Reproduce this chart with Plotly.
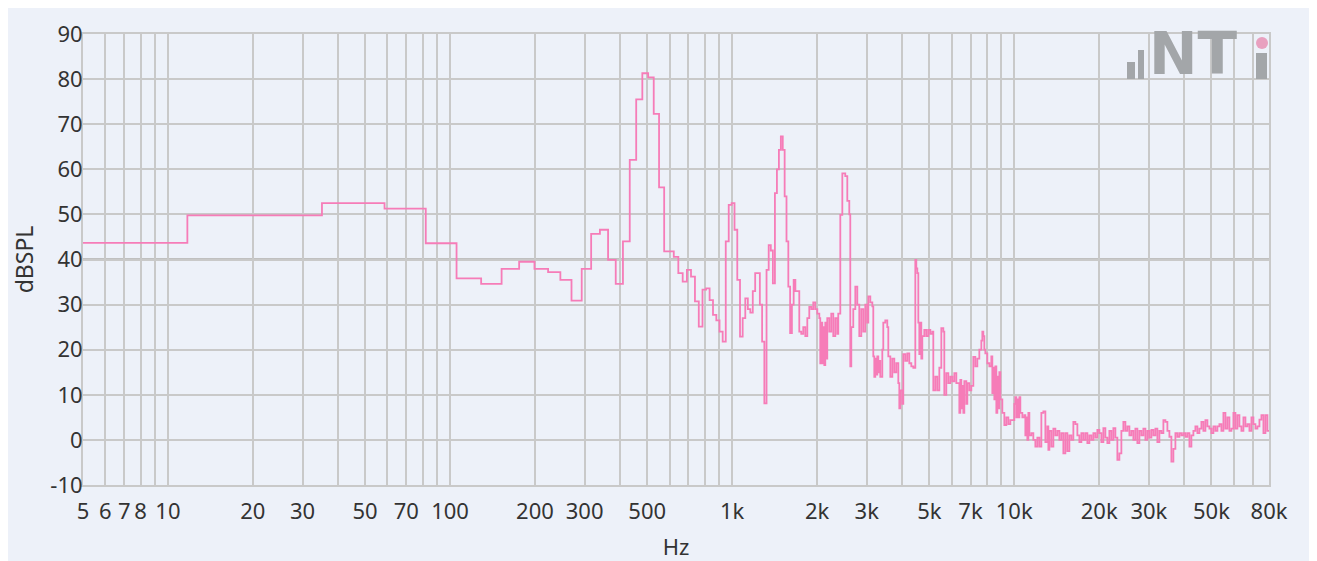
import plotly.graph_objects as go

# ---- data: FFT spectrum (bin start frequency in Hz, level in dBSPL) ----
FREQ_LOW = [5, 11.72, 35.16, 58.59, 82.03, 105.47, 128.91, 152.34, 175.78, 199.22,
            222.66, 246.09, 269.53, 292.97, 316.41, 339.84, 363.28, 386.72, 410.16, 433.59,
            457.03, 480.47, 503.91, 527.34, 550.78, 574.22, 597.66, 621.09, 644.53, 667.97,
            691.41, 714.84, 738.28, 761.72, 785.16, 808.59, 832.03, 855.47, 878.91, 902.34,
            925.78, 949.22, 972.66, 996.09, 1019.53, 1042.97, 1066.41, 1089.84, 1113.28, 1136.72,
            1160.16, 1183.59, 1207.03, 1230.47, 1253.91, 1277.34, 1300.78, 1324.22, 1347.66, 1371.09,
            1394.53, 1417.97, 1441.41, 1464.84, 1488.28, 1511.72, 1535.16, 1558.59, 1582.03, 1605.47,
            1628.91, 1652.34, 1675.78]
LEVEL_LOW = [43.7, 49.8, 52.5, 51.3, 43.6, 35.8, 34.6, 37.9, 39.5, 37.9,
             37.2, 35.5, 30.9, 37.9, 45.7, 46.6, 39.9, 34.6, 44.0, 62.1,
             75.5, 81.3, 80.4, 72.3, 56.0, 41.8, 41.8, 40.6, 37.0, 35.1,
             37.7, 36.2, 30.7, 25.1, 33.3, 33.6, 31.0, 27.7, 26.5, 24.0,
             21.8, 44.0, 52.1, 52.5, 46.6, 35.5, 22.9, 27.0, 31.4, 29.0,
             28.2, 33.0, 37.0, 37.0, 30.0, 21.8, 8.1, 37.7, 43.2, 42.0,
             34.7, 54.7, 60.0, 64.3, 67.3, 64.3, 54.0, 44.0, 34.0, 23.7,
             30.0, 35.5, 33.0]

FREQ_HIGH = [1702, 1730, 1758, 1787, 1817, 1847, 1877, 1908, 1939, 1971, 2004, 2037, 2053, 2070,
             2087, 2104, 2122, 2139, 2157, 2174, 2210, 2246, 2283, 2321, 2359, 2378, 2418, 2458,
             2518, 2560, 2602, 2623, 2645, 2688, 2733, 2778, 2823, 2870, 2917, 2965, 3014, 3039,
             3089, 3140, 3165, 3191, 3217, 3244, 3270, 3297, 3324, 3351, 3407, 3434, 3491, 3548,
             3578, 3637, 3697, 3757, 3819, 3882, 3914, 3946, 4011, 4044, 4110, 4178, 4247, 4317,
             4388, 4460, 4496, 4533, 4571, 4608, 4646, 4684, 4722, 4800, 4879, 4959, 5041, 5124,
             5166, 5251, 5337, 5426, 5515, 5605, 5651, 5744, 5839, 5935, 6033, 6132, 6233, 6336,
             6388, 6440, 6493, 6546, 6600, 6654, 6763, 6819, 6931, 7045, 7161, 7279, 7399, 7521,
             7645, 7708, 7771, 7834, 7899, 8028, 8161, 8295, 8363, 8432, 8501, 8571, 8641, 8711,
             8783, 8855, 8928, 9075, 9224, 9376, 9530, 9687, 9847, 10008, 10091, 10173, 10256, 10341,
             10426, 10511, 10684, 10860, 10949, 11039, 11129, 11221, 11313, 11499, 11688, 11881, 12076, 12275,
             12477, 12683, 12892, 13104, 13211, 13320, 13539, 13762, 13989, 14219, 14453, 14690, 14932, 15179,
             15428, 15683, 15940, 16202, 16469, 16740, 17016, 17297, 17581, 17871, 18165, 18465, 18768, 19077,
             19391, 19710, 20035, 20365, 20700, 21041, 21387, 21740, 22097, 22461, 22831, 23206, 23589, 23977,
             24372, 24774, 25180, 25597, 26017, 26445, 26881, 27322, 27774, 28231, 28695, 29169, 29647, 30138,
             30632, 31136, 31650, 32169, 32701, 33238, 33786, 34343, 34906, 35484, 36065, 36659, 37264, 37875,
             38501, 39134, 39779, 40435, 41098, 41778, 42463, 43163, 43874, 44595, 45332, 46076, 46834, 47607,
             48388, 49188, 49996, 50819, 51657, 52505, 53373, 54249, 55142, 56052, 56972, 57914, 58864, 59833,
             60820, 61818, 62840, 63871, 64923, 65994, 67077, 68186, 69306, 70447, 71609, 72784, 73987, 75202,
             76440, 77700, 78976, 80000]
LEVEL_HIGH = [33, 24, 23.5, 25, 23, 27, 29.5, 29, 30.5, 29, 28, 27, 17, 26,
              17, 25, 16.6, 26, 18, 27, 24, 28, 23, 27, 23.5, 28, 49.9, 59.1,
              58.5, 53, 50, 16.3, 25, 29, 34, 30, 23, 29, 24, 30, 26, 31.8,
              30.5, 29.6, 18.5, 14, 18, 14.5, 18.5, 15, 17.5, 14, 20, 26, 26.5, 25,
              18.5, 14, 18, 15, 17, 12.6, 7, 11, 8, 19, 17.5, 19.2, 17, 16.3,
              16, 39.9, 38, 37, 26, 19, 26, 18, 23, 24.4, 23, 24.4, 23.5, 24,
              11, 14, 11, 16, 24.8, 24, 10, 14.8, 12.6, 14, 13, 14.8, 12.6, 12.6,
              6, 13.3, 7, 12, 6, 13, 8, 12.6, 11, 12, 18.4, 16.3, 18, 20,
              22, 24, 23, 20, 19.2, 17, 16.3, 18.5, 10.4, 16, 9, 16.3, 6, 14,
              7, 15, 9, 6, 3.3, 5, 3.5, 4.4, 4.4, 8, 9.5, 5, 9, 5,
              9.5, 6, 5, 5.5, 1, 5, 0, 6, 1, 1.5, 0, -1.5, 0.5, -1.5,
              6, 6.3, -0.5, 3, -2.2, 2, -1.5, 2.5, 1, 2, 0, 1.5, -3, 1.5,
              -2.5, 1, 0, 4, 3.5, 1, -0.5, 1.5, 0, 1.5, -0.7, 1, 0, 1.5,
              0.5, 2.2, 1.5, -0.5, 2.6, 0.5, -0.7, 2, 0, 2.6, 0.5, -4.4, -3, 2,
              4, 2, 3, 1, 2, 0, 2.5, -0.7, 2, 1, 2.5, 0, 2, 0.5,
              2.2, 1, 2.5, -0.5, 2, 1.5, 4.4, 4, 2, 0.7, -4.8, -2, 1.5, 0.7,
              1.5, 1, 1.5, 0.7, 1.5, -1.5, 1, 2, 3, 1.5, 2.5, 4, 2, 4.4,
              3, 2.5, 1.5, 3, 2, 3, 3.5, 2, 6, 2.5, 5, 2, 2.5, 6,
              2.5, 5.5, 3, 2, 5, 3, 3.5, 2, 5, 3.5, 2.5, 3, 4.5, 5.5,
              1.5, 5.5, 2, 2]

FREQ_HZ = FREQ_LOW + FREQ_HIGH
LEVEL_DB = LEVEL_LOW + LEVEL_HIGH

# ---- axis ticks ----
GRID_HZ = [5, 6, 7, 8, 9,
           10, 20, 30, 40, 50, 60, 70, 80, 90,
           100, 200, 300, 400, 500, 600, 700, 800, 900,
           1000, 2000, 3000, 4000, 5000, 6000, 7000, 8000, 9000,
           10000, 20000, 30000, 40000, 50000, 60000, 70000, 80000]
TICK_LABELS = {5: "5", 6: "6", 7: "7", 8: "8", 10: "10", 20: "20", 30: "30", 50: "50",
               70: "70", 100: "100", 200: "200", 300: "300", 500: "500", 1000: "1k",
               2000: "2k", 3000: "3k", 5000: "5k", 7000: "7k", 10000: "10k", 20000: "20k",
               30000: "30k", 50000: "50k", 80000: "80k"}
Y_TICKS = [-10, 0, 10, 20, 30, 40, 50, 60, 70, 80, 90]
Y_LABELS = ["-10", "0", "10", "20", "30", "40", "50", "60", "70", "80", "90"]

PANEL = "#edf1f9"
GRID = "#c9c9c9"
FONT = "Noto Sans"
TXT = "#333333"

# page body has an 8px margin, so the figure is offset by 8px in the screenshot
OFF = 8
W, H = 1317 - OFF, 561 - OFF
L, R, T, B = 83, 1269, 34, 485   # plot area in screenshot pixels


def px(x):
    return (x - L) / (R - L)


def py(y):
    return (B - y) / (B - T)


fig = go.Figure()
fig.add_trace(go.Scatter(
    x=FREQ_HZ, y=LEVEL_DB, mode="lines",
    line=dict(color="#f67cb8", width=1.8, shape="hv"),
    showlegend=False, hoverinfo="skip"))

LOGO = "#a3a6a9"
shapes = [
    dict(type="line", xref="paper", yref="y", x0=0, x1=1, y0=40, y1=40,
         line=dict(color="#c0c0c0", width=3), layer="below"),
    dict(type="rect", xref="paper", yref="paper", x0=px(1127), x1=px(1135), y0=py(79), y1=py(62),
         fillcolor=LOGO, line=dict(width=0)),
    dict(type="rect", xref="paper", yref="paper", x0=px(1138), x1=px(1144), y0=py(79), y1=py(50),
         fillcolor=LOGO, line=dict(width=0)),
    dict(type="rect", xref="paper", yref="paper", x0=px(1256), x1=px(1267), y0=py(79), y1=py(53),
         fillcolor=LOGO, line=dict(width=0)),
    dict(type="circle", xref="paper", yref="paper", x0=px(1256), x1=px(1268), y0=py(49), y1=py(37),
         fillcolor="#e8a0bf", line=dict(width=0)),
]

annotations = [
    dict(text="<b>NT</b>", xref="paper", yref="paper", x=px(1147), y=py(79), xanchor="left",
         yanchor="bottom", showarrow=False, yshift=-11,
         font=dict(family="DejaVu Sans", size=58, color=LOGO)),
]

fig.update_layout(
    width=W, height=H,
    margin=dict(l=L - OFF, r=W - (R - OFF), t=T - OFF, b=H - (B - OFF), pad=0, autoexpand=False),
    paper_bgcolor=PANEL,
    plot_bgcolor=PANEL,
    shapes=shapes,
    annotations=annotations,
    font=dict(family=FONT, color=TXT, size=22),
    xaxis=dict(
        type="log", range=[0.69897, 4.90309], automargin=False,
        tickmode="array", tickvals=GRID_HZ,
        ticktext=[TICK_LABELS.get(v, "") for v in GRID_HZ],
        tickangle=0,
        showgrid=True, gridcolor=GRID, gridwidth=2,
        showline=True, linecolor=GRID, linewidth=2, mirror=True,
        ticks="", zeroline=False, ticklabelstandoff=6,
        tickfont=dict(size=22, color=TXT, family=FONT),
        title=dict(text="Hz", font=dict(size=22, family=FONT, color=TXT), standoff=20),
    ),
    yaxis=dict(
        range=[-10, 90], tickmode="array", tickvals=Y_TICKS, ticktext=Y_LABELS, automargin=False,
        showgrid=True, gridcolor=GRID, gridwidth=2,
        showline=True, linecolor=GRID, linewidth=2, mirror=True,
        ticks="", zeroline=False, ticklabelstandoff=-6,
        tickfont=dict(size=22, color=TXT, family=FONT),
        title=dict(text="dBSPL", font=dict(size=23, family=FONT, color=TXT), standoff=12),
    ),
)

fig.write_html("out.html")
